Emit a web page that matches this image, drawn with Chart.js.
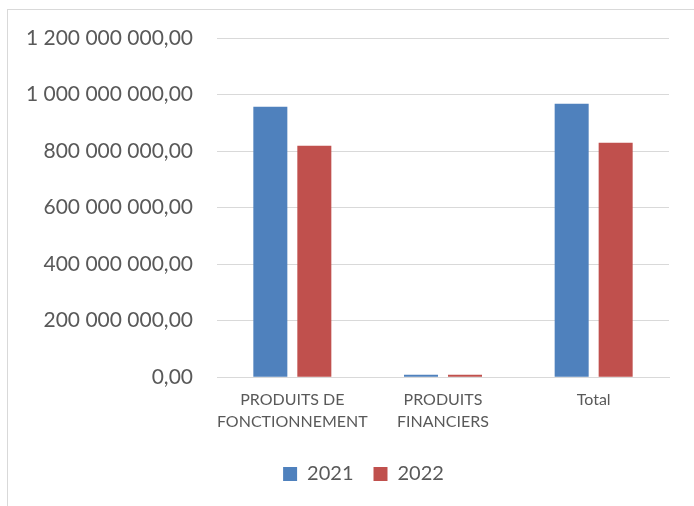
<!DOCTYPE html>
<html>
<head>
<meta charset="utf-8">
<script src="https://cdn.jsdelivr.net/npm/chart.js@4.4.1/dist/chart.umd.min.js"></script>
<style>
  html, body { margin: 0; padding: 0; background: #fff; overflow: hidden; }
  #wrap { position: relative; width: 694px; height: 506px; overflow: hidden; }
  #frame { position: absolute; left: 7px; top: 9px; width: 720px; height: 540px; border: 1px solid #d9d9d9; box-sizing: border-box; }
  #c { position: absolute; left: 0; top: 0; }
</style>
</head>
<body>
<div id="wrap">
  <div id="frame"></div>
  <canvas id="c" width="694" height="506"></canvas>
</div>
<script>
const categories = [["PRODUITS DE", "FONCTIONNEMENT"], ["PRODUITS", "FINANCIERS"], "Total"];
const seriesNames = ["2021", "2022"];
const values2021 = [957000000, 9000000, 967000000];
const values2022 = [819000000, 9000000, 829000000];
const yTicks = [0, 200000000, 400000000, 600000000, 800000000, 1000000000, 1200000000];

function fmt(v) {
  const s = Math.round(v).toString().replace(/\B(?=(\d{3})+(?!\d))/g, " ");
  return s + ",00";
}

const FONT = "Lato, 'Open Sans', sans-serif";
const TXT = "#595959";

const shiftLegend = {
  id: "shiftLegend",
  afterLayout(chart) {
    if (chart.legend) { chart.legend.left += 25; chart.legend.right += 25; }
  }
};

new Chart(document.getElementById("c"), {
  type: "bar",
  data: {
    labels: categories,
    datasets: [
      { label: seriesNames[0], data: values2021, backgroundColor: "#4F81BD", categoryPercentage: 0.584, barPercentage: 0.773 },
      { label: seriesNames[1], data: values2022, backgroundColor: "#C0504D", categoryPercentage: 0.584, barPercentage: 0.773 }
    ]
  },
  plugins: [shiftLegend],
  options: {
    responsive: false,
    animation: false,
    layout: { padding: { left: 8, right: 25, top: 38, bottom: 12 } },
    plugins: {
      legend: {
        position: "bottom",
        labels: { font: { family: FONT, size: 20 }, color: TXT, boxWidth: 14, boxHeight: 14, padding: 20 }
      },
      tooltip: { enabled: false }
    },
    scales: {
      x: {
        grid: { display: false, drawTicks: false },
        border: { color: "#d9d9d9", width: 1 },
        ticks: { font: { family: FONT, size: 16, lineHeight: 1.4 }, color: TXT, padding: 11, maxRotation: 0, autoSkip: false }
      },
      y: {
        min: 0, max: 1200000000,
        afterBuildTicks: (axis) => { axis.ticks = yTicks.map(v => ({ value: v })); },
        afterFit: (axis) => { axis.width = 209; },
        grid: { color: "#d9d9d9", lineWidth: 1, drawTicks: false },
        border: { display: false },
        ticks: { font: { family: FONT, size: 21 }, color: TXT, padding: 24, callback: (v) => fmt(v) }
      }
    }
  }
});
</script>
</body>
</html>
